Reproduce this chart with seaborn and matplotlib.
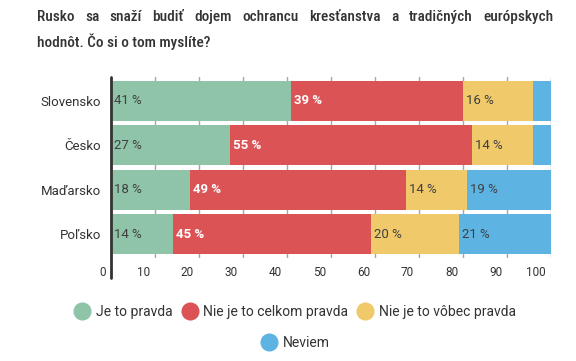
import numpy as np
import seaborn as sns
import matplotlib.pyplot as plt
from matplotlib.lines import Line2D
from matplotlib.transforms import ScaledTranslation

countries = ['Slovensko', 'Česko', 'Maďarsko', 'Poľsko']
answers = ['Je to pravda', 'Nie je to celkom pravda', 'Nie je to vôbec pravda', 'Neviem']
je_pravda = [41, 27, 18, 14]
nie_celkom = [39, 55, 49, 45]
nie_vobec = [16, 14, 14, 20]
neviem = [4, 4, 19, 21]
colors = ['#8fc4a8', '#dc5356', '#efc96a', '#5db4e3']
xticks = [0, 10, 20, 30, 40, 50, 60, 70, 80, 90, 100]
title_1 = 'Rusko sa snaží budiť dojem ochrancu kresťanstva a tradičných európskych'
title_2 = 'hodnôt. Čo si o tom myslíte?'

sns.set_style('white')
plt.rcParams['font.family'] = ['Roboto', 'DejaVu Sans']
dark = '#333333'
grid = '#a6a6a6'

fig = plt.figure(figsize=(5.76, 3.61), dpi=100)
ax = fig.add_axes([111 / 576, 1 - 258 / 361, 440 / 576, 181 / 361])

series = [je_pravda, nie_celkom, nie_vobec, neviem]
cum = np.cumsum(np.array(series), axis=0)

# stacked bars: draw cumulative totals from the longest one down
for i in reversed(range(len(series))):
    sns.barplot(x=cum[i], y=countries, color=colors[i], width=0.9, orient='h',
                saturation=1, linewidth=0, ax=ax, zorder=2)

for i, vals in enumerate(series):
    for j, v in enumerate(vals):
        if v < 5:
            continue
        left = cum[i][j] - v
        ax.text(left + 0.7, j, f'{v} %', va='center', ha='left', fontsize=9.5,
                color='white' if i == 1 else '#404040',
                fontweight='bold' if i == 1 else 'normal', zorder=3)

ax.set_xlim(0, 100)
ax.set_ylim(3 + (258 - 234.2) / 44.5, -(100.8 - 77) / 44.5)
ax.set_xticks(xticks)
ax.set_xlabel('')
ax.set_ylabel('')
ax.grid(axis='x', color=grid, lw=1)
ax.grid(axis='y', visible=False)
ax.set_axisbelow(True)
for s in ax.spines.values():
    s.set_visible(False)
ax.axvline(0, ymin=-20 / 181, ymax=1, color=dark, lw=2, clip_on=False, zorder=4)

ax.tick_params(axis='x', length=14.4, width=1, color=grid, pad=-9,
               labelsize=8.5, labelcolor=dark)
ax.tick_params(axis='y', length=0, pad=7, labelsize=9.5, labelcolor=dark)
for lab in ax.get_xticklabels():
    lab.set_ha('right')
    lab.set_transform(lab.get_transform() + ScaledTranslation(-0.05, 0, fig.dpi_scale_trans))

# legend: three entries on the first row, the last one centred below
handles = [Line2D([], [], marker='o', ls='', markersize=12,
                  markerfacecolor=c, markeredgecolor=c) for c in colors]
leg_kw = dict(loc='center', frameon=False, fontsize=10, handletextpad=0.4,
              columnspacing=0.6, handlelength=1.2, labelcolor=dark)
fig.legend(handles[:3], answers[:3], bbox_to_anchor=(295 / 576, 1 - 312 / 361), ncol=3, **leg_kw)
fig.legend(handles[3:], answers[3:], bbox_to_anchor=(295 / 576, 1 - 343 / 361), ncol=1, **leg_kw)

# title, first line justified between the margins
title_kw = dict(fontsize=11, fontweight='medium', color=dark, va='baseline',
                family=['Roboto Condensed', 'Liberation Sans Narrow', 'Roboto'])
renderer = fig.canvas.get_renderer()
words = title_1.split()
texts = [fig.text(0, 1 - 21 / 361, w, **title_kw) for w in words]
widths = [t.get_window_extent(renderer).width for t in texts]
x0, x1 = 37, 553
gap = (x1 - x0 - sum(widths)) / (len(words) - 1)
pos = x0
for t, w in zip(texts, widths):
    t.set_x(pos / 576)
    pos += w + gap
fig.text(x0 / 576, 1 - 47 / 361, title_2, **title_kw)

fig.savefig('out.png', dpi=100)
